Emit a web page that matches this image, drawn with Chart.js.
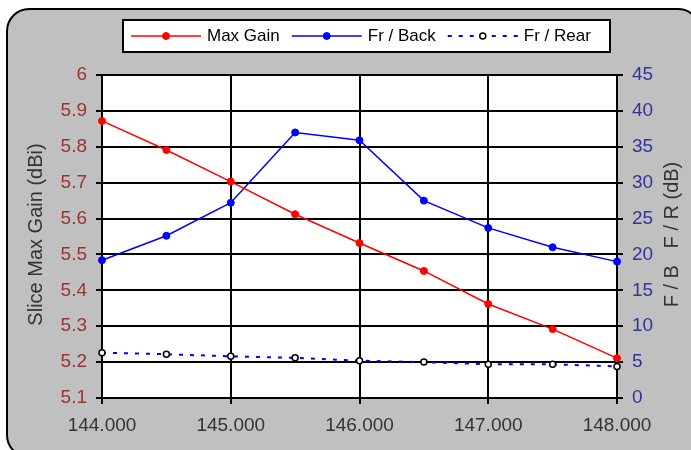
<!DOCTYPE html>
<html>
<head>
<meta charset="utf-8">
<script src="https://cdn.jsdelivr.net/npm/chart.js@4.4.1/dist/chart.umd.min.js"></script>
<style>
    html, body { margin: 0; padding: 0; background: #fff; }
    canvas { display: block; }
</style>
</head>
<body>
<canvas id="gainChart" width="691" height="450"></canvas>
<script>
// Frequency (MHz) and measured values
const freqs = [144, 144.5, 145, 145.5, 146, 146.5, 147, 147.5, 148];
const maxGain = [5.872, 5.791, 5.703, 5.612, 5.532, 5.454, 5.362, 5.292, 5.211];
const frBack = [19.2, 22.6, 27.2, 37.0, 35.9, 27.5, 23.7, 21.0, 19.0];
const frRear = [6.3, 6.1, 5.8, 5.6, 5.2, 5.0, 4.7, 4.7, 4.4];

const seriesNames = ['Max Gain', 'Fr / Back', 'Fr / Rear'];
const leftTitle = 'Slice Max Gain (dBi)';
const rightTitle = 'F / B   F / R (dB)';

const FONT = "'Liberation Sans', Arial, sans-serif";

function toPoints(values) {
    return values.map((v, i) => ({ x: freqs[i], y: v }));
}

// grey rounded panel + white plot area
const backdrop = {
    id: 'backdrop',
    beforeDraw(chart) {
        const ctx = chart.ctx;
        const a = chart.chartArea;
        ctx.save();
        ctx.fillStyle = '#fff';
        ctx.fillRect(0, 0, chart.width, chart.height);
        ctx.beginPath();
        ctx.roundRect(7, 9, 693, 448, 22);
        ctx.fillStyle = '#c0c0c0';
        ctx.fill();
        ctx.lineWidth = 2;
        ctx.strokeStyle = '#000';
        ctx.stroke();
        ctx.fillStyle = '#fff';
        ctx.fillRect(a.left, a.top, a.right - a.left, a.bottom - a.top);
        ctx.restore();
    }
};

// axis titles and boxed legend
const overlay = {
    id: 'overlay',
    afterDraw(chart) {
        const ctx = chart.ctx;
        const a = chart.chartArea;
        const midY = (a.top + a.bottom) / 2 - 2;
        ctx.save();
        ctx.font = '20px ' + FONT;
        ctx.fillStyle = '#333';
        ctx.textAlign = 'center';
        ctx.textBaseline = 'middle';
        [[36, leftTitle], [672, rightTitle]].forEach(([x, txt]) => {
            ctx.save();
            ctx.translate(x, midY);
            ctx.rotate(-Math.PI / 2);
            ctx.fillText(txt, 0, 0);
            ctx.restore();
        });

        // legend box
        ctx.fillStyle = '#fff';
        ctx.fillRect(123, 20, 487, 32);
        ctx.lineWidth = 2;
        ctx.strokeStyle = '#000';
        ctx.strokeRect(123, 20, 487, 32);

        ctx.font = '17px ' + FONT;
        ctx.textAlign = 'left';
        const y = 36;
        let x = 131;
        chart.data.datasets.forEach((ds, i) => {
            ctx.save();
            ctx.strokeStyle = ds.borderColor;
            ctx.lineWidth = ds.borderWidth;
            ctx.setLineDash(ds.borderDash || []);
            ctx.beginPath();
            ctx.moveTo(x, y);
            ctx.lineTo(x + 70, y);
            ctx.stroke();
            ctx.setLineDash([]);
            ctx.beginPath();
            ctx.arc(x + 35, y, ds.pointRadius, 0, Math.PI * 2);
            ctx.fillStyle = ds.pointBackgroundColor;
            ctx.fill();
            ctx.lineWidth = ds.pointBorderWidth;
            ctx.strokeStyle = ds.pointBorderColor;
            ctx.stroke();
            ctx.restore();
            ctx.fillStyle = '#000';
            ctx.fillText(ds.label, x + 76, y);
            x += 76 + ctx.measureText(ds.label).width + 12;
        });
        ctx.restore();
    }
};

const gridStyle = { color: '#000', lineWidth: 2, tickLength: 6 };

new Chart(document.getElementById('gainChart'), {
    type: 'line',
    data: {
        datasets: [
            {
                label: seriesNames[0],
                data: toPoints(maxGain),
                yAxisID: 'y',
                borderColor: '#ff0000',
                borderWidth: 1.5,
                pointRadius: 3.5,
                pointBackgroundColor: '#ff0000',
                pointBorderColor: '#ff0000',
                pointBorderWidth: 1,
                clip: false
            },
            {
                label: seriesNames[1],
                data: toPoints(frBack),
                yAxisID: 'y2',
                borderColor: '#0000ff',
                borderWidth: 1.5,
                pointRadius: 3.5,
                pointBackgroundColor: '#0000ff',
                pointBorderColor: '#0000ff',
                pointBorderWidth: 1,
                clip: false
            },
            {
                label: seriesNames[2],
                data: toPoints(frRear),
                yAxisID: 'y2',
                borderColor: '#0000ff',
                borderWidth: 2,
                borderDash: [4, 7],
                pointRadius: 3,
                pointBackgroundColor: '#fff',
                pointBorderColor: '#000',
                pointBorderWidth: 1.5,
                clip: false
            }
        ]
    },
    options: {
        responsive: false,
        animation: false,
        layout: { padding: { top: 75, left: 0, right: 0, bottom: 0 } },
        plugins: { legend: { display: false }, tooltip: { enabled: false } },
        elements: { line: { tension: 0 } },
        scales: {
            x: {
                type: 'linear',
                min: 144,
                max: 148,
                grid: gridStyle,
                border: { color: '#000', width: 2 },
                ticks: {
                    stepSize: 1,
                    padding: 10,
                    color: '#333',
                    font: { family: FONT, size: 19 },
                    maxRotation: 0,
                    callback: v => v.toFixed(3)
                },
                afterFit: s => { s.height = 52; }
            },
            y: {
                position: 'left',
                min: 5.1,
                max: 6,
                grid: gridStyle,
                border: { color: '#000', width: 2 },
                ticks: {
                    stepSize: 0.1,
                    padding: 9,
                    color: '#993333',
                    font: { family: FONT, size: 19 },
                    callback: v => String(Number(v.toFixed(1)))
                },
                afterFit: s => { s.width = 102; }
            },
            y2: {
                position: 'right',
                min: 0,
                max: 45,
                grid: { color: '#000', lineWidth: 2, tickLength: 6, drawOnChartArea: false },
                border: { color: '#000', width: 2 },
                ticks: {
                    stepSize: 5,
                    padding: 9,
                    color: '#333399',
                    font: { family: FONT, size: 19 }
                },
                afterFit: s => { s.width = 74; }
            }
        }
    },
    plugins: [backdrop, overlay]
});
</script>
</body>
</html>
